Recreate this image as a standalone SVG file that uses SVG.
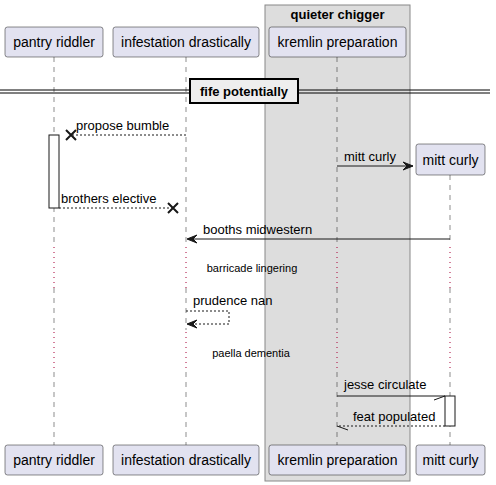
<svg xmlns="http://www.w3.org/2000/svg" width="496" height="485" viewBox="0 0 496 485">
<style>
text{font-family:"Liberation Sans",Arial,sans-serif;fill:#000}
.pn{font-size:14px;text-anchor:middle}
.msg{font-size:13px}
.dl{font-size:11px;text-anchor:middle}
.b{font-weight:bold;font-size:13px;text-anchor:middle}
.part{fill:#E2E2F0;stroke:#181818;stroke-width:0.5}
.life{stroke:#181818;stroke-width:0.5;stroke-dasharray:5,5;fill:none}
.dot{stroke:#A80036;stroke-width:1;stroke-dasharray:1,4;fill:none}
.sol{stroke:#181818;stroke-width:1;fill:none}
.dash{stroke:#181818;stroke-width:1;stroke-dasharray:2,2;fill:none}
.act{fill:#FFFFFF;stroke:#181818;stroke-width:1}
.head{fill:#181818;stroke:#181818;stroke-width:1}
.x{stroke:#181818;stroke-width:2}
</style>
<rect id="box-quieter-chigger" x="265" y="5" width="145" height="476" fill="#DDDDDD" stroke="#888888" stroke-width="1"/>
<text class="b" x="337.5" y="19">quieter chigger</text>
<g id="lifelines">
<path class="life" d="M54,57 V245 M54,288 V330 M54,372 V445"/>
<path class="dot" d="M54,247 V288 M54,332 V372"/>
<path class="life" d="M186,57 V245 M186,288 V330 M186,372 V445"/>
<path class="dot" d="M186,247 V288 M186,332 V372"/>
<path class="life" d="M337,57 V245 M337,288 V330 M337,372 V445"/>
<path class="dot" d="M337,247 V288 M337,332 V372"/>
<path class="life" d="M450,175 V245 M450,288 V330 M450,372 V445"/>
<path class="dot" d="M450,247 V288 M450,332 V372"/>
</g>
<g id="divider">
<line x1="0" y1="90" x2="490" y2="90" stroke="#000" stroke-width="1"/>
<line x1="0" y1="93" x2="490" y2="93" stroke="#000" stroke-width="1"/>
<rect x="190" y="79" width="108" height="24" fill="#EEEEEE" stroke="#000" stroke-width="2"/>
<text class="b" x="244" y="96">fife potentially</text>
</g>
<g id="activations">
<rect class="act" x="49" y="135" width="10" height="73"/>
<rect class="act" x="445" y="396" width="10" height="30"/>
</g>
<g id="connectors">
<line class="dash" x1="186" y1="135" x2="72" y2="135"/>
<path class="x" d="M66,130 L76,140 M66,140 L76,130"/>
<text class="msg" x="76" y="130">propose bumble</text>
<line class="sol" x1="337" y1="166" x2="413" y2="166"/>
<polygon class="head" points="403,162 413,166 403,170 407,166"/>
<text class="msg" x="344" y="161">mitt curly</text>
<line class="dash" x1="59" y1="208" x2="172" y2="208"/>
<path class="x" d="M168,203 L178,213 M168,213 L178,203"/>
<text class="msg" x="61" y="203">brothers elective</text>
<line class="sol" x1="450" y1="239" x2="188" y2="239"/>
<polygon class="head" points="197,235 187,239 197,243 193,239"/>
<text class="msg" x="203" y="234">booths midwestern</text>
<text class="dl" x="252" y="272">barricade lingering</text>
<path class="dash" d="M186,311 H229 V324 H188"/>
<polygon class="head" points="197,320 187,324 197,328 193,324"/>
<text class="msg" x="193" y="305">prudence nan</text>
<text class="dl" x="251" y="357">paella dementia</text>
<line class="sol" x1="337" y1="396" x2="445" y2="396"/>
<line class="sol" x1="434" y1="400" x2="445" y2="396"/>
<text class="msg" x="344" y="389">jesse circulate</text>
<line class="dash" x1="445" y1="426" x2="337" y2="426"/>
<line class="sol" x1="337" y1="426" x2="348" y2="430"/>
<text class="msg" x="353" y="421">feat populated</text>
</g>
<g id="pantry-riddler">
<rect class="part" x="5" y="27" width="98" height="30" rx="2.5"/>
<text class="pn" x="54" y="47">pantry riddler</text>
<rect class="part" x="5" y="445" width="98" height="30" rx="2.5"/>
<text class="pn" x="54" y="465">pantry riddler</text>
</g>
<g id="infestation-drastically">
<rect class="part" x="113" y="27" width="146" height="30" rx="2.5"/>
<text class="pn" x="186" y="47">infestation drastically</text>
<rect class="part" x="113" y="445" width="146" height="30" rx="2.5"/>
<text class="pn" x="186" y="465">infestation drastically</text>
</g>
<g id="kremlin-preparation">
<rect class="part" x="269" y="27" width="137" height="30" rx="2.5"/>
<text class="pn" x="337.5" y="47">kremlin preparation</text>
<rect class="part" x="269" y="445" width="137" height="30" rx="2.5"/>
<text class="pn" x="337.5" y="465">kremlin preparation</text>
</g>
<g id="mitt-curly">
<rect class="part" x="416" y="144" width="69" height="31" rx="2.5"/>
<text class="pn" x="450.5" y="165">mitt curly</text>
<rect class="part" x="416" y="445" width="69" height="30" rx="2.5"/>
<text class="pn" x="450.5" y="465">mitt curly</text>
</g>
</svg>
